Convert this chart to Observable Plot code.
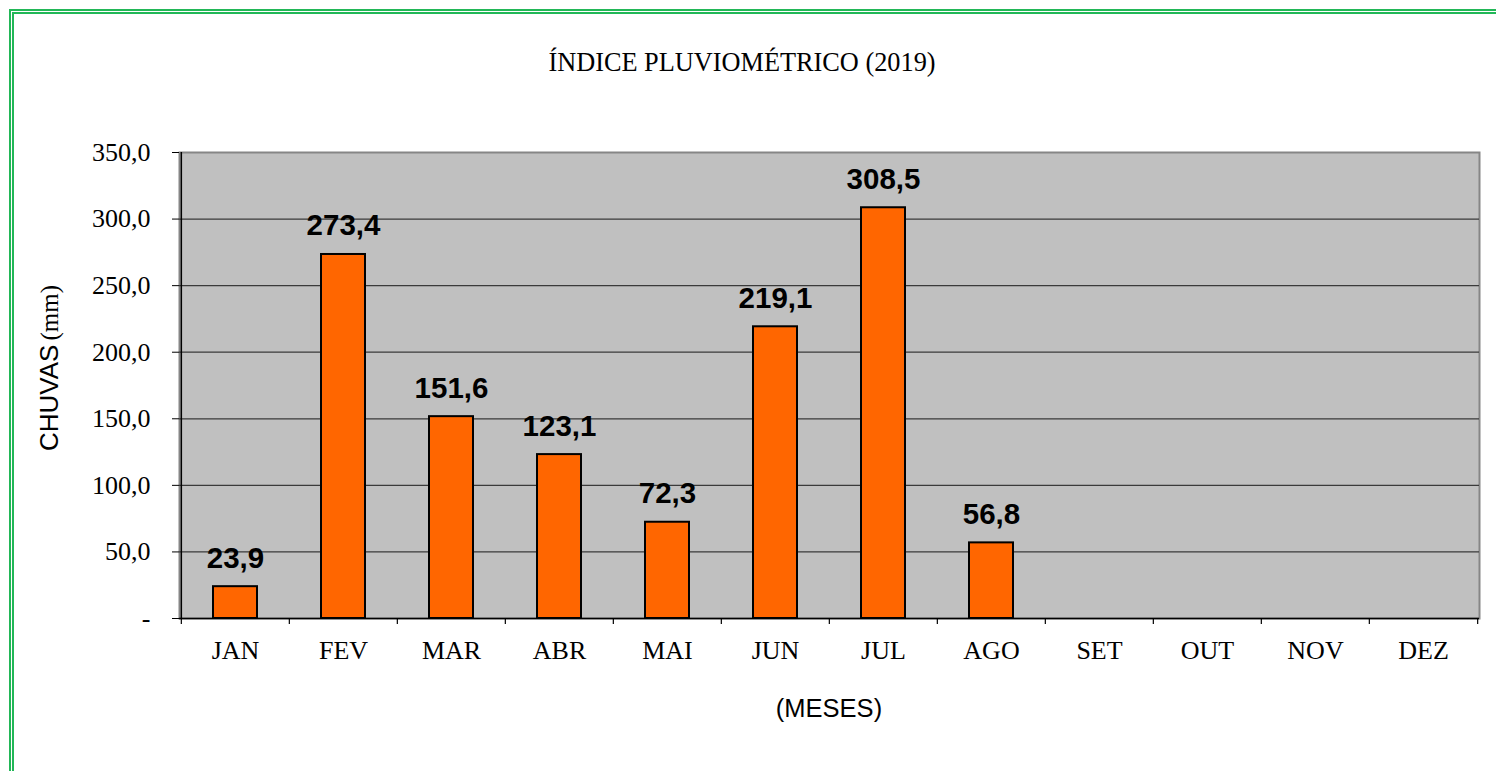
<!DOCTYPE html>
<html>
<head>
<meta charset="utf-8">
<script src="https://cdn.jsdelivr.net/npm/d3@7"></script>
<script src="https://cdn.jsdelivr.net/npm/@observablehq/plot@0.6"></script>
<style>
  html, body { margin: 0; padding: 0; background: #fff; overflow: hidden; }
  #wrap { position: relative; width: 1496px; height: 771px; overflow: hidden; }
  #border { position: absolute; left: 9px; top: 9px; width: 1600px; height: 900px;
            border: 5px double #22b757; box-sizing: border-box; }
  .lbl { position: absolute; color: #000; white-space: nowrap; line-height: 1; }
  #title { left: 0; width: 1484px; top: 50px; text-align: center;
           font-family: "Liberation Serif", serif; font-size: 26.3px; }
  #ylab { left: 49px; top: 368px; transform: translate(-50%, -50%) rotate(-90deg); }
  #xlab { left: 0; width: 1658px; top: 696px; text-align: center;
          font-family: "Liberation Sans", sans-serif; font-size: 25.5px; }
  #chart { position: absolute; left: 0; top: 0; }
</style>
</head>
<body>
<div id="wrap">
  <div id="border"></div>
  <div id="chart"></div>
  <div class="lbl" id="title">ÍNDICE PLUVIOMÉTRICO (2019)</div>
  <div class="lbl" id="ylab"><span style="font-family:'Liberation Sans',sans-serif;font-size:26px">CHUVAS</span> <span style="font-family:'Liberation Serif',serif;font-size:25px">(mm)</span></div>
  <div class="lbl" id="xlab">(MESES)</div>
</div>
<script>
const months = ["JAN", "FEV", "MAR", "ABR", "MAI", "JUN", "JUL", "AGO", "SET", "OUT", "NOV", "DEZ"];
const rainfall = [23.9, 273.4, 151.6, 123.1, 72.3, 219.1, 308.5, 56.8, null, null, null, null];
const yTicks = [0, 50, 100, 150, 200, 250, 300, 350];

const data = months.map((m, i) => ({month: m, value: rainfall[i]})).filter(d => d.value != null);
const fmt = v => v === 0 ? "-" : v.toFixed(1).replace(".", ",");

const W = 1496, H = 771, ML = 179, MR = 17, MT = 152, MB = 153;
const step = (W - ML - MR) / months.length;

const chart = Plot.plot({
  width: W, height: H,
  marginLeft: ML, marginRight: MR, marginTop: MT, marginBottom: MB,
  style: {background: "transparent", color: "#000", overflow: "visible"},
  x: {type: "band", domain: months, paddingInner: 0.594, paddingOuter: 0.297, axis: null},
  y: {domain: [0, 350], axis: null},
  marks: [
    Plot.frame({fill: "#c0c0c0", stroke: "#868686", strokeWidth: 2}),
    Plot.ruleY(yTicks.filter(t => t > 0 && t < 350), {stroke: "#3a3a3a", strokeWidth: 1.2}),
    Plot.barY(data, {x: "month", y: "value", fill: "#ff6600", stroke: "#000", strokeWidth: 2}),
    Plot.text(data, {x: "month", y: "value", text: d => fmt(d.value), dy: -28.5,
      fontFamily: "Liberation Sans", fontWeight: "bold", fontSize: 29.5, fill: "#000"}),
    // left axis line
    Plot.ruleX([months[0]], {x: d => d, dx: -step / 2, y1: 0, y2: 350, stroke: "#000", strokeWidth: 1.5}),
    // bottom axis line
    Plot.ruleY([0], {stroke: "#000", strokeWidth: 1.5}),
    // category boundary ticks
    Plot.ruleX(months, {x: d => d, dx: -step / 2, y1: 0, y2: 0, insetBottom: -6, stroke: "#000", strokeWidth: 1.2}),
    Plot.ruleX([months[months.length - 1]], {x: d => d, dx: step / 2, y1: 0, y2: 0, insetBottom: -6, stroke: "#000", strokeWidth: 1.2}),
    Plot.axisY({ticks: yTicks, tickFormat: fmt, tickSize: 7, tickPadding: 22,
      fontSize: 26, fontFamily: "Liberation Serif", label: null, stroke: "#000", fill: "#000"}),
    Plot.axisX({tickSize: 0, tickPadding: 22, fontSize: 26, fontFamily: "Liberation Serif", label: null, fill: "#000"})
  ]
});
document.getElementById("chart").appendChild(chart);
</script>
</body>
</html>
